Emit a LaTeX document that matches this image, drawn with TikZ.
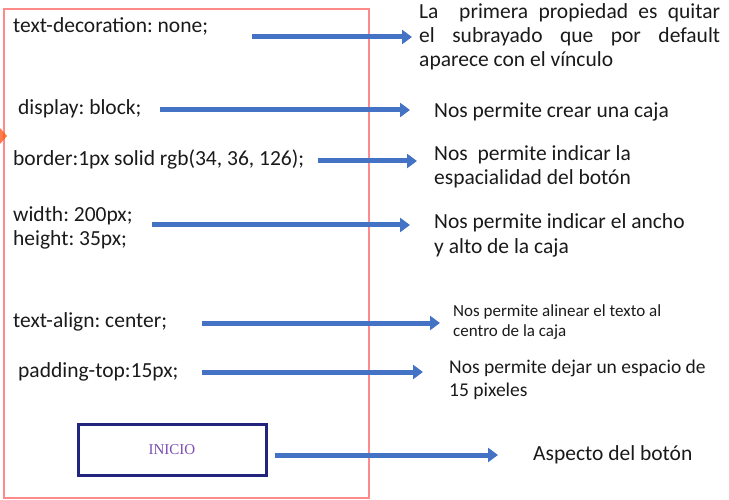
\documentclass[tikz,border=0pt]{standalone}
\usepackage{fontspec}
\setmainfont{Carlito}
\newfontfamily\btnfont{Liberation Serif}
\usetikzlibrary{arrows.meta}
\frenchspacing
\definecolor{framered}{HTML}{FF8A8A}
\definecolor{arrowblue}{HTML}{4472C4}
\definecolor{btnblue}{RGB}{34,36,126}
\definecolor{btntext}{HTML}{7A4DB0}
\definecolor{ink}{HTML}{1A1A1A}
\definecolor{tipmark}{HTML}{FF5A1F}
\tikzset{
  code/.style={anchor=base west, inner sep=0pt, text=ink, font=\fontsize{21.5}{24}\selectfont},
  note/.style={anchor=base west, inner sep=0pt, text=ink, font=\fontsize{21.5}{26}\selectfont},
  notes/.style={note, font=\fontsize{17}{21}\selectfont},
  notem/.style={note, font=\fontsize{19.5}{23}\selectfont},
  link/.style={draw=arrowblue, line width=5pt, -{Triangle[length=10pt,width=14pt]}},
  btn/.style={draw=btnblue, line width=3pt, minimum width=188pt, minimum height=51pt, inner sep=0pt},
}

\begin{document}
\begin{tikzpicture}[x=1pt,y=-1pt]
  \useasboundingbox (0,0) rectangle (729,500);
  \draw[framered, line width=1.5pt] (4,9) rectangle (369,498);
  \fill[tipmark, opacity=0.8] (0,128) -- (7,136) -- (0,144) -- cycle;

  % css properties
  \node[code] (dec) at (13,33) {text-decoration: none;};
  \node[code] (disp) at (18,115) {display: block;};
  \node[code] (bord) at (13,166) {border:1px solid rgb(34, 36, 126);};
  \node[code] (wid) at (13,222) {width: 200px;};
  \node[code] (hei) at (13,246) {height: 35px;};
  \node[code] (align) at (13,327) {text-align: center;};
  \node[code] (pad) at (18,377) {padding-top:15px;};
  \node[btn] (btn) at (172,450) {\btnfont\fontsize{15}{15}\selectfont\color{btntext}INICIO};

  % notes
  \node[note] (n1a) at (419,19) {\makebox[301pt][s]{La\ \ primera propiedad es quitar}};
  \node[note] (n1b) at (419,43) {\makebox[301pt][s]{el subrayado que por default}};
  \node[note] (n1c) at (419,67) {aparece con el vínculo};
  \node[note] (n2) at (434,118) {Nos permite crear una caja};
  \node[note] (n3a) at (434,161) {Nos\ \ permite indicar la};
  \node[note] (n3b) at (434,185) {espacialidad del botón};
  \node[note] (n4a) at (434,229) {Nos permite indicar el ancho};
  \node[note] (n4b) at (434,254) {y alto de la caja};
  \node[notes] (n5a) at (453,316) {Nos permite alinear el texto al};
  \node[notes] (n5b) at (453,336) {centro de la caja};
  \node[notem] (n6a) at (449,373) {Nos permite dejar un espacio de};
  \node[notem] (n6b) at (449,396) {15 pixeles};
  \node[note] (n7) at (533,460) {Aspecto del botón};

  % arrows
  \coordinate (s1) at (252,37);  \coordinate (e1) at (412,37);
  \coordinate (s2) at (160,110); \coordinate (e2) at (410,110);
  \coordinate (s3) at (318,161); \coordinate (e3) at (417,161);
  \coordinate (s4) at (152,225); \coordinate (e4) at (410,225);
  \coordinate (s5) at (202,323); \coordinate (e5) at (440,323);
  \coordinate (s6) at (202,372); \coordinate (e6) at (423,372);
  \coordinate (s7) at (275,455); \coordinate (e7) at (498,455);
  \foreach \i in {1,...,7}
    \draw[link] (s\i) -- (e\i);
\end{tikzpicture}
\end{document}
